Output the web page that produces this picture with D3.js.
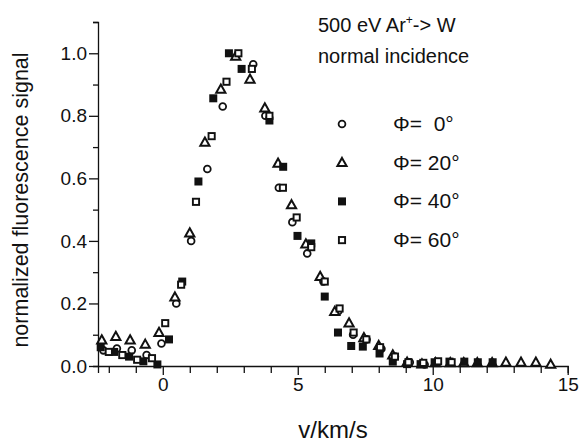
<!DOCTYPE html>
<html>
<head>
<meta charset="utf-8">
<script src="https://cdn.jsdelivr.net/npm/d3@7"></script>
<style>
  body { margin: 0; background: #fff; }
  text { font-family: "Liberation Sans", Arial, sans-serif; fill: #111; }
</style>
</head>
<body>
<div id="chart"></div>
<script>
// Size of the figure.
var width = 581;
var height = 445;

// Velocity (km/s) and normalized signal, one pair of arrays per angle.
var phi0V = [-2.2, -1.7, -1.15, -0.6, -0.05, 0.5, 1.05, 1.65, 2.22, 3.35, 3.8, 4.3, 4.8, 5.35, 5.95, 6.5, 7.05, 7.55, 8.1, 8.6, 9.15, 9.7];
var phi0Y = [0.05, 0.056, 0.05, 0.035, 0.072, 0.2, 0.40, 0.63, 0.83, 0.965, 0.80, 0.57, 0.46, 0.36, 0.27, 0.175, 0.10, 0.085, 0.055, 0.03, 0.012, 0.005];

var phi20V = [-2.26, -1.74, -1.21, -0.65, -0.14, 0.45, 1.0, 1.56, 2.15, 2.7, 3.23, 3.78, 4.27, 4.77, 5.3, 5.83, 6.37, 6.9, 7.45, 8.0, 8.52, 9.05, 9.6, 10.1, 10.65, 11.15, 11.65, 12.2, 12.71, 13.27, 13.82, 14.37];
var phi20Y = [0.083, 0.094, 0.083, 0.069, 0.107, 0.22, 0.425, 0.715, 0.885, 0.99, 0.917, 0.825, 0.648, 0.515, 0.39, 0.286, 0.174, 0.137, 0.09, 0.065, 0.035, 0.012, 0.006, 0.01, 0.01, 0.01, 0.01, 0.01, 0.012, 0.012, 0.012, 0.005];

var phi40V = [-2.3, -1.8, -1.25, -0.72, -0.2, 0.23, 0.72, 1.32, 1.87, 2.45, 2.92, 3.95, 4.46, 4.99, 5.5, 6.0, 6.49, 6.98, 7.41, 8.03, 8.52, 9.05, 9.55, 10.07, 10.62, 11.17, 11.67, 12.22];
var phi40Y = [0.06, 0.045, 0.03, 0.015, 0.005, 0.085, 0.27, 0.59, 0.856, 1.0, 0.95, 0.785, 0.637, 0.416, 0.392, 0.222, 0.107, 0.064, 0.062, 0.04, 0.014, 0.006, 0.006, 0.012, 0.014, 0.014, 0.012, 0.012];

var phi60V = [-2.0, -1.5, -0.95, -0.4, 0.09, 0.68, 1.23, 1.81, 2.36, 2.8, 3.3, 3.95, 4.45, 4.96, 5.5, 6.0, 6.55, 7.07, 7.54, 8.05, 8.6, 9.1, 9.65, 10.2, 10.7];
var phi60Y = [0.045, 0.035, 0.02, 0.025, 0.137, 0.26, 0.525, 0.735, 0.909, 1.0, 0.95, 0.80, 0.57, 0.475, 0.38, 0.27, 0.184, 0.107, 0.085, 0.06, 0.03, 0.012, 0.01, 0.015, 0.012];

// Legend labels and tick labels.
var seriesNames = ["\u03A6=  0\u00B0", "\u03A6= 20\u00B0", "\u03A6= 40\u00B0", "\u03A6= 60\u00B0"];
var xTicks = [0, 5, 10, 15];
var yTicks = [0, 0.2, 0.4, 0.6, 0.8, 1.0];

var series = [
  { name: seriesNames[0], shape: "circle",   v: phi0V,  y: phi0Y },
  { name: seriesNames[1], shape: "triangle", v: phi20V, y: phi20Y },
  { name: seriesNames[2], shape: "fsquare",  v: phi40V, y: phi40Y },
  { name: seriesNames[3], shape: "osquare",  v: phi60V, y: phi60Y }
];

var x = d3.scaleLinear().domain([-2.4, 15]).range([98, 567.7]);
var y = d3.scaleLinear().domain([0, 1.1]).range([366, 22]);

var svg = d3.select("#chart").append("svg")
    .attr("width", width)
    .attr("height", height);

// Axes: major ticks labelled, minor ticks in between.
var xAxis = svg.append("g").attr("transform", "translate(0," + y(0) + ")");
xAxis.call(d3.axisBottom(x).tickValues(d3.range(-2, 16, 1)).tickSize(7).tickFormat(""));
xAxis.call(function(g) {
  g.selectAll(".tick line").filter(function(d) { return d % 5 === 0; }).attr("y2", 9);
});
xAxis.append("g").call(d3.axisBottom(x).tickValues(xTicks).tickSize(0).tickPadding(12).tickFormat(d3.format("d")))
    .call(function(g) { g.select(".domain").remove(); });

var yAxis = svg.append("g").attr("transform", "translate(" + x.range()[0] + ",0)");
yAxis.call(d3.axisLeft(y).tickValues(d3.range(0, 12).map(function(i) { return i / 10; })).tickSize(5).tickFormat(""));
yAxis.call(function(g) {
  g.selectAll(".tick line").filter(function(d, i) { return i % 2 === 0 && i < 11; }).attr("x2", -9);
});
yAxis.append("g").call(d3.axisLeft(y).tickValues(yTicks).tickSize(0).tickPadding(11).tickFormat(d3.format(".1f")))
    .call(function(g) { g.select(".domain").remove(); });

svg.selectAll(".domain").attr("stroke", "#111").attr("stroke-width", 1.3);
svg.selectAll(".tick line").attr("stroke", "#111").attr("stroke-width", 1.3);
svg.selectAll(".tick text").style("font-size", "19px").attr("fill", "#111")
    .style("font-family", "'Liberation Sans', Arial, sans-serif");

// Marker drawing for each symbol type.
function drawMarker(sel, shape) {
  if (shape === "circle") {
    sel.append("circle").attr("r", 3.4).attr("fill", "#fff").attr("stroke", "#111").attr("stroke-width", 1.8);
  } else if (shape === "triangle") {
    sel.append("path").attr("d", "M0,-4.8L4.6,3.4L-4.6,3.4Z").attr("fill", "#fff").attr("stroke", "#111").attr("stroke-width", 2);
  } else if (shape === "fsquare") {
    sel.append("rect").attr("x", -4).attr("y", -4).attr("width", 8).attr("height", 8).attr("fill", "#111");
  } else {
    sel.append("rect").attr("x", -3.1).attr("y", -3.1).attr("width", 6.2).attr("height", 6.2).attr("fill", "#fff").attr("stroke", "#111").attr("stroke-width", 1.9);
  }
}

series.forEach(function(s) {
  var pts = s.v.map(function(v, i) { return [v, s.y[i]]; });
  svg.append("g").selectAll("g")
      .data(pts)
      .enter().append("g")
      .attr("transform", function(d) { return "translate(" + x(d[0]) + "," + y(d[1]) + ")"; })
      .each(function() { drawMarker(d3.select(this), s.shape); });
});

// Legend
var legend = svg.append("g");
series.forEach(function(s, i) {
  var row = legend.append("g").attr("transform", "translate(0," + (124 + i * 38.7) + ")");
  drawMarker(row.append("g").attr("transform", "translate(342,0)"), s.shape);
  row.append("text").attr("x", 393).attr("y", 7).style("font-size", "21px")
      .style("white-space", "pre").attr("xml:space", "preserve").text(s.name);
});

// Title text
var t1 = svg.append("text").attr("x", 318).attr("y", 32).style("font-size", "20px");
t1.append("tspan").text("500 eV Ar");
t1.append("tspan").attr("dy", -8).style("font-size", "12px").text("+");
t1.append("tspan").attr("dy", 8).text("-> W");
svg.append("text").attr("x", 318).attr("y", 63).style("font-size", "20px").text("normal incidence");

// Axis titles
svg.append("text").attr("x", 333).attr("y", 438).attr("text-anchor", "middle")
    .style("font-size", "24px").text("v/km/s");
svg.append("text").attr("transform", "translate(28,200) rotate(-90)").attr("text-anchor", "middle")
    .style("font-size", "21.5px").text("normalized fluorescence signal");
</script>
</body>
</html>
